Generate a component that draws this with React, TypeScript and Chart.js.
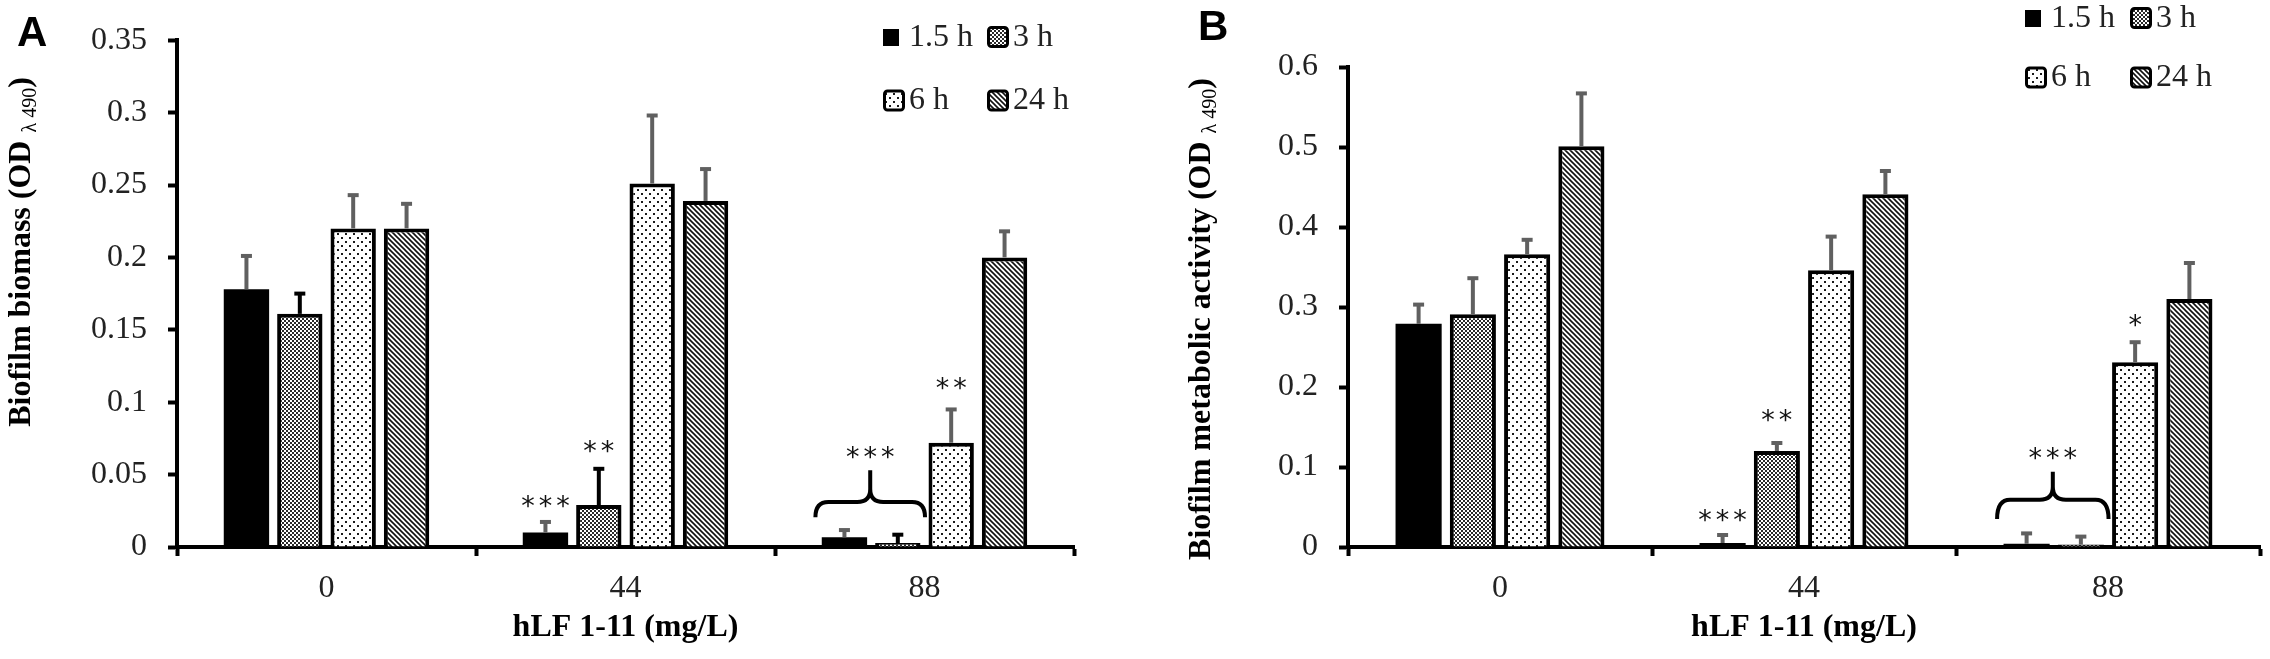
import React, { useEffect, useRef } from 'react';
import { Chart, registerables } from 'chart.js';

Chart.register(...registerables);

// ---------- data ----------
const categories = ['0', '44', '88'];
const seriesLabels = ['1.5 h', '3 h', '6 h', '24 h'];

// Panel A – biofilm biomass (OD λ490)
const biomass15 = [0.178, 0.01, 0.0067];
const biomass3 = [0.161, 0.029, 0.0027];
const biomass6 = [0.22, 0.251, 0.072];
const biomass24 = [0.22, 0.239, 0.2];
const biomassErr15 = [0.023, 0.0073, 0.005];
const biomassErr3 = [0.014, 0.025, 0.0058];
const biomassErr6 = [0.023, 0.047, 0.023];
const biomassErr24 = [0.017, 0.022, 0.018];
const biomassTicks = ['0', '0.05', '0.1', '0.15', '0.2', '0.25', '0.3', '0.35'];

// Panel B – biofilm metabolic activity (OD λ490)
const activity15 = [0.279, 0.005, 0.004];
const activity3 = [0.291, 0.12, 0.003];
const activity6 = [0.366, 0.346, 0.231];
const activity24 = [0.501, 0.441, 0.31];
const activityErr15 = [0.024, 0.01, 0.013];
const activityErr3 = [0.045, 0.01, 0.01];
const activityErr6 = [0.018, 0.042, 0.025];
const activityErr24 = [0.066, 0.029, 0.045];
const activityTicks = ['0', '0.1', '0.2', '0.3', '0.4', '0.5', '0.6'];

const xTitle = 'hLF 1-11 (mg/L)';

// ---------- styling helpers ----------
const SERIF = '"Liberation Serif", "Times New Roman", serif';
const SANS = '"Liberation Sans", Arial, sans-serif';
const STAR_FONT = '27px "DejaVu Sans", sans-serif';

function makePatterns(ctx: CanvasRenderingContext2D) {
  const mk = (w: number, h: number, draw: (g: CanvasRenderingContext2D) => void) => {
    const c = document.createElement('canvas');
    c.width = w;
    c.height = h;
    const g = c.getContext('2d')!;
    draw(g);
    return ctx.createPattern(c, 'repeat')!;
  };
  const mesh = mk(4, 4, (g) => {
    g.fillStyle = '#ffffff';
    g.fillRect(0, 0, 4, 4);
    g.fillStyle = '#2a2a2a';
    g.fillRect(0, 0, 2, 2);
    g.fillRect(2, 2, 2, 2);
  });
  const dots = mk(8, 8, (g) => {
    g.fillStyle = '#ffffff';
    g.fillRect(0, 0, 8, 8);
    g.fillStyle = '#1a1a1a';
    g.fillRect(1, 1, 2, 2);
    g.fillRect(5, 5, 2, 2);
  });
  const hatch = mk(5, 5, (g) => {
    g.fillStyle = '#ffffff';
    g.fillRect(0, 0, 5, 5);
    g.strokeStyle = '#111';
    g.lineWidth = 1.6;
    g.beginPath();
    g.moveTo(-1, -1);
    g.lineTo(6, 6);
    g.moveTo(-1, 4);
    g.lineTo(1, 6);
    g.moveTo(4, -1);
    g.lineTo(6, 1);
    g.stroke();
  });
  return ['#000000', mesh, dots, hatch];
}

function drawBrace(ctx: CanvasRenderingContext2D, left: number, right: number, yEnd: number, yMid: number, yPeak: number) {
  const xc = (left + right) / 2;
  const r = 13;
  ctx.beginPath();
  ctx.moveTo(left, yEnd);
  ctx.quadraticCurveTo(left, yMid, left + r, yMid);
  ctx.lineTo(xc - r, yMid);
  ctx.quadraticCurveTo(xc, yMid, xc, yMid - r);
  ctx.lineTo(xc, yPeak);
  ctx.moveTo(xc, yMid - r);
  ctx.quadraticCurveTo(xc, yMid, xc + r, yMid);
  ctx.lineTo(right - r, yMid);
  ctx.quadraticCurveTo(right, yMid, right, yEnd);
  ctx.stroke();
}

// draws a run of asterisks, spaced like the original figure
function drawStars(ctx: CanvasRenderingContext2D, text: string, cx: number, glyphCenterY: number) {
  const pitch = 17.5;
  const n = text.length;
  ctx.save();
  ctx.font = STAR_FONT;
  ctx.fillStyle = '#111';
  ctx.textAlign = 'center';
  ctx.textBaseline = 'alphabetic';
  for (let k = 0; k < n; k++) {
    const x = cx + (k - (n - 1) / 2) * pitch;
    ctx.fillText(text[k], x, glyphCenterY + 15.5);
  }
  ctx.restore();
}

const decorPlugin = {
  id: 'decor',
  afterDatasetsDraw(chart: any) {
    const ctx = chart.ctx as CanvasRenderingContext2D;
    const y = chart.scales.y;
    ctx.save();
    chart.data.datasets.forEach((ds: any, i: number) => {
      const meta = chart.getDatasetMeta(i);
      meta.data.forEach((bar: any, j: number) => {
        const v = ds.data[j];
        const e = ds.errors[j];
        const yv = y.getPixelForValue(v);
        const ye = y.getPixelForValue(v + e);
        ctx.strokeStyle = ds.errorColor;
        ctx.lineWidth = 4;
        ctx.lineCap = 'butt';
        ctx.beginPath();
        ctx.moveTo(bar.x, yv);
        ctx.lineTo(bar.x, ye);
        ctx.stroke();
        ctx.beginPath();
        ctx.moveTo(bar.x - 5.5, ye);
        ctx.lineTo(bar.x + 5.5, ye);
        ctx.stroke();
      });
    });
    ctx.restore();
  },
  afterDraw(chart: any, _args: any, opts: any) {
    const ctx = chart.ctx as CanvasRenderingContext2D;
    const y = chart.scales.y;
    ctx.save();

    // panel letter
    ctx.fillStyle = '#000';
    ctx.font = `bold 42px ${SANS}`;
    ctx.textAlign = 'left';
    ctx.textBaseline = 'alphabetic';
    ctx.fillText(opts.letter, opts.letterX, opts.letterY);

    // y-axis title with subscript
    const big = `bold 32px ${SERIF}`;
    const small = `20px ${SERIF}`;
    ctx.font = big;
    const w1 = ctx.measureText(opts.yTitle).width;
    const w3 = ctx.measureText(')').width;
    ctx.font = small;
    const w2 = ctx.measureText(opts.ySub).width;
    const total = w1 + w2 + w3;
    ctx.save();
    ctx.translate(opts.yTitleX, opts.yTitleY);
    ctx.rotate(-Math.PI / 2);
    let px = -total / 2;
    ctx.font = big;
    ctx.fillText(opts.yTitle, px, 0);
    px += w1;
    ctx.font = small;
    ctx.fillText(opts.ySub, px, 6);
    px += w2;
    ctx.font = big;
    ctx.fillText(')', px, 0);
    ctx.restore();

    // legend (2 x 2)
    chart.data.datasets.forEach((ds: any, i: number) => {
      const col = i % 2;
      const row = Math.floor(i / 2);
      const lx = opts.legendX[col];
      const ly = opts.legendY[row];
      if (i === 0) {
        ctx.fillStyle = '#000';
        ctx.fillRect(lx, ly - 8.5, 16, 17);
      } else {
        const s = 20;
        ctx.beginPath();
        (ctx as any).roundRect(lx + 1.5, ly - s / 2, s - 1, s - 1, 3);
        ctx.fillStyle = ds.backgroundColor;
        ctx.fill();
        ctx.lineWidth = 3;
        ctx.strokeStyle = '#000';
        ctx.stroke();
      }
      ctx.fillStyle = '#222';
      ctx.font = `32px ${SERIF}`;
      ctx.textAlign = 'left';
      ctx.textBaseline = 'middle';
      ctx.fillText(ds.label, lx + 26, ly);
    });

    // significance marks
    opts.marks.forEach((m: any) => {
      const bar = chart.getDatasetMeta(m.dataset).data[m.index];
      drawStars(ctx, m.text, bar.x, y.getPixelForValue(m.value));
    });

    // braces
    ctx.strokeStyle = '#000';
    ctx.lineWidth = 4;
    opts.braces.forEach((b: any) => {
      const b0 = chart.getDatasetMeta(b.from).data[b.index];
      const b1 = chart.getDatasetMeta(b.to).data[b.index];
      const left = b0.x - 0.64 * b0.width;
      const right = b1.x + 0.6 * b1.width;
      drawBrace(ctx, left, right, y.getPixelForValue(b.end), y.getPixelForValue(b.mid), y.getPixelForValue(b.peak));
      drawStars(ctx, b.text, (left + right) / 2, y.getPixelForValue(b.textValue));
    });

    ctx.restore();
  },
};

type PanelSpec = {
  series: number[][];
  errors: number[][];
  errorColors: string[];
  yMax: number;
  yStep: number;
  yTicks: string[];
  yWidth: number;
  padding: { left: number; right: number; top: number; bottom: number };
  decor: any;
};

function Panel({ spec }: { spec: PanelSpec }) {
  const ref = useRef<HTMLCanvasElement>(null);
  useEffect(() => {
    const canvas = ref.current!;
    const ctx = canvas.getContext('2d')!;
    const fills = makePatterns(ctx);
    const chart = new Chart(canvas, {
      type: 'bar',
      data: {
        labels: categories,
        datasets: seriesLabels.map((label, i) => ({
          label,
          data: spec.series[i],
          errors: spec.errors[i],
          errorColor: spec.errorColors[i],
          backgroundColor: fills[i] as any,
          borderColor: '#000',
          borderWidth: i === 0 ? 0 : 4,
          borderSkipped: 'start',
          barPercentage: 0.85,
          categoryPercentage: 0.714,
        })) as any,
      },
      options: {
        responsive: false,
        animation: false,
        events: [],
        layout: { padding: spec.padding },
        plugins: {
          legend: { display: false },
          tooltip: { enabled: false },
          decor: spec.decor,
        } as any,
        scales: {
          x: {
            grid: {
              display: true,
              drawOnChartArea: false,
              drawTicks: true,
              tickLength: 9,
              tickWidth: 4,
              tickColor: '#000',
              offset: true,
            },
            border: { display: true, color: '#000', width: 4 },
            ticks: { color: '#222', padding: 13, font: { family: SERIF, size: 32 } },
            title: {
              display: true,
              text: xTitle,
              color: '#000',
              font: { family: SERIF, size: 32, weight: 'bold' },
              padding: { top: 0, bottom: 12 },
            },
            afterFit: (s: any) => {
              s.height = 112;
            },
          },
          y: {
            min: 0,
            max: spec.yMax,
            grid: {
              display: true,
              drawOnChartArea: false,
              drawTicks: true,
              tickLength: 9,
              tickWidth: 4,
              tickColor: '#000',
            },
            border: { display: true, color: '#000', width: 4 },
            ticks: {
              stepSize: spec.yStep,
              color: '#222',
              padding: 21,
              font: { family: SERIF, size: 32 },
              callback: (_v: any, idx: number) => spec.yTicks[idx],
            },
            afterFit: (s: any) => {
              s.width = spec.yWidth;
            },
          },
        },
      } as any,
      plugins: [decorPlugin as any],
    });
    return () => chart.destroy();
  }, [spec]);
  return <canvas ref={ref} width={1135} height={659} style={{ display: 'block', width: 1135, height: 659 }} />;
}

const specA: PanelSpec = {
  series: [biomass15, biomass3, biomass6, biomass24],
  errors: [biomassErr15, biomassErr3, biomassErr6, biomassErr24],
  errorColors: ['#606060', '#000000', '#606060', '#606060'],
  yMax: 0.35,
  yStep: 0.05,
  yTicks: biomassTicks,
  yWidth: 177,
  padding: { left: 0, right: 61, top: 22, bottom: 0 },
  decor: {
    letter: 'A',
    letterX: 17,
    letterY: 46,
    yTitle: 'Biofilm biomass (OD ',
    ySub: 'λ 490',
    yTitleX: 30,
    yTitleY: 252,
    legendX: [883, 987],
    legendY: [37.5, 101],
    marks: [
      { dataset: 0, index: 1, text: '***', value: 0.033 },
      { dataset: 1, index: 1, text: '**', value: 0.071 },
      { dataset: 2, index: 2, text: '**', value: 0.1145 },
    ],
    braces: [{ from: 0, to: 1, index: 2, end: 0.0205, mid: 0.031, peak: 0.053, text: '***', textValue: 0.0665 }],
  },
};

const specB: PanelSpec = {
  series: [activity15, activity3, activity6, activity24],
  errors: [activityErr15, activityErr3, activityErr6, activityErr24],
  errorColors: ['#606060', '#606060', '#606060', '#606060'],
  yMax: 0.6,
  yStep: 0.1,
  yTicks: activityTicks,
  yWidth: 213,
  padding: { left: 0, right: 10, top: 67, bottom: 0 },
  decor: {
    letter: 'B',
    letterX: 63,
    letterY: 40,
    yTitle: 'Biofilm metabolic activity (OD ',
    ySub: 'λ 490',
    yTitleX: 75,
    yTitleY: 319,
    legendX: [890, 995],
    legendY: [18.5, 78],
    marks: [
      { dataset: 0, index: 1, text: '***', value: 0.0425 },
      { dataset: 1, index: 1, text: '**', value: 0.1675 },
      { dataset: 2, index: 2, text: '*', value: 0.286 },
    ],
    braces: [{ from: 0, to: 1, index: 2, end: 0.035, mid: 0.059, peak: 0.094, text: '***', textValue: 0.119 }],
  },
};

export default function App() {
  return (
    <div
      style={{
        position: 'fixed',
        left: 0,
        top: 0,
        width: 2270,
        height: 659,
        background: '#ffffff',
        display: 'flex',
        flexDirection: 'row',
      }}
    >
      <Panel spec={specA} />
      <Panel spec={specB} />
    </div>
  );
}
